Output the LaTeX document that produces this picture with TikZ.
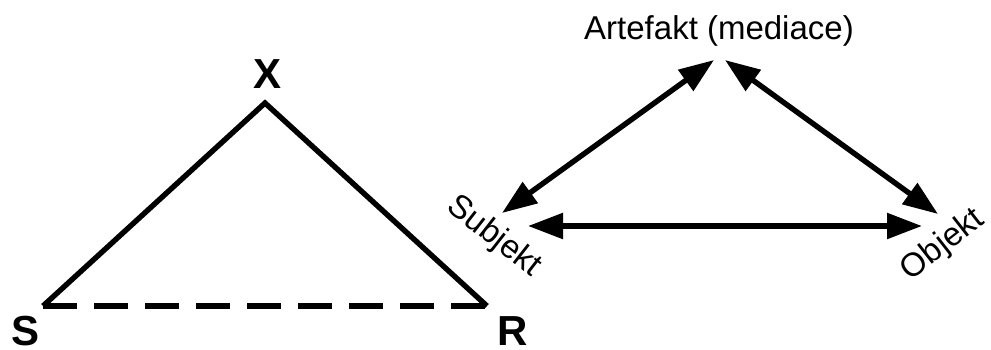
\documentclass[tikz,border=0pt]{standalone}
\usepackage{fontspec}
\setmainfont{Liberation Sans}
\usetikzlibrary{arrows.meta}
\tikzset{
  edgeline/.style={line width=5.4pt, line join=miter},
  dashline/.style={line width=5.4pt, dash pattern=on 34pt off 17pt},
  corner/.style={font=\fontsize{42}{42}\selectfont\bfseries, inner sep=0pt, anchor=base},
  rel/.style={line width=5.4pt, {Triangle[length=35pt,width=25pt]}-{Triangle[length=35pt,width=25pt]}},
  lbl/.style={font=\fontsize{33}{33}\selectfont, inner sep=0pt},
}
\begin{document}
\begin{tikzpicture}[x=1pt,y=-1pt]
\useasboundingbox (0,0) rectangle (991,349);
% left triangle
\coordinate (cX) at (265,103);
\coordinate (cS) at (43,306);
\coordinate (cR) at (487,306);
\node[corner] (X) at (268,88) {X};
\node[corner] (S) at (26,345) {S};
\node[corner] (R) at (513,345) {R};
\draw[edgeline] (cS) -- (cX) -- (cR);
\draw[dashline] (cS) -- (cR);
% right triangle
\node[font=\fontsize{33}{33}\selectfont, inner sep=0pt, anchor=base] (art) at (719,39) {Artefakt (mediace)};
\node[lbl, rotate=-38] (sub) at (494,237) {Subjekt};
\node[lbl, rotate=38] (obj) at (943,245) {Objekt};
\coordinate (aL) at (714,60);
\coordinate (aR) at (725,60);
\coordinate (sD) at (502,213);
\coordinate (sH) at (528,226);
\coordinate (oD) at (938,214);
\coordinate (oH) at (922,226);
\draw[rel] (sD) -- (aL);
\draw[rel] (aR) -- (oD);
\draw[rel] (sH) -- (oH);
\end{tikzpicture}
\end{document}
